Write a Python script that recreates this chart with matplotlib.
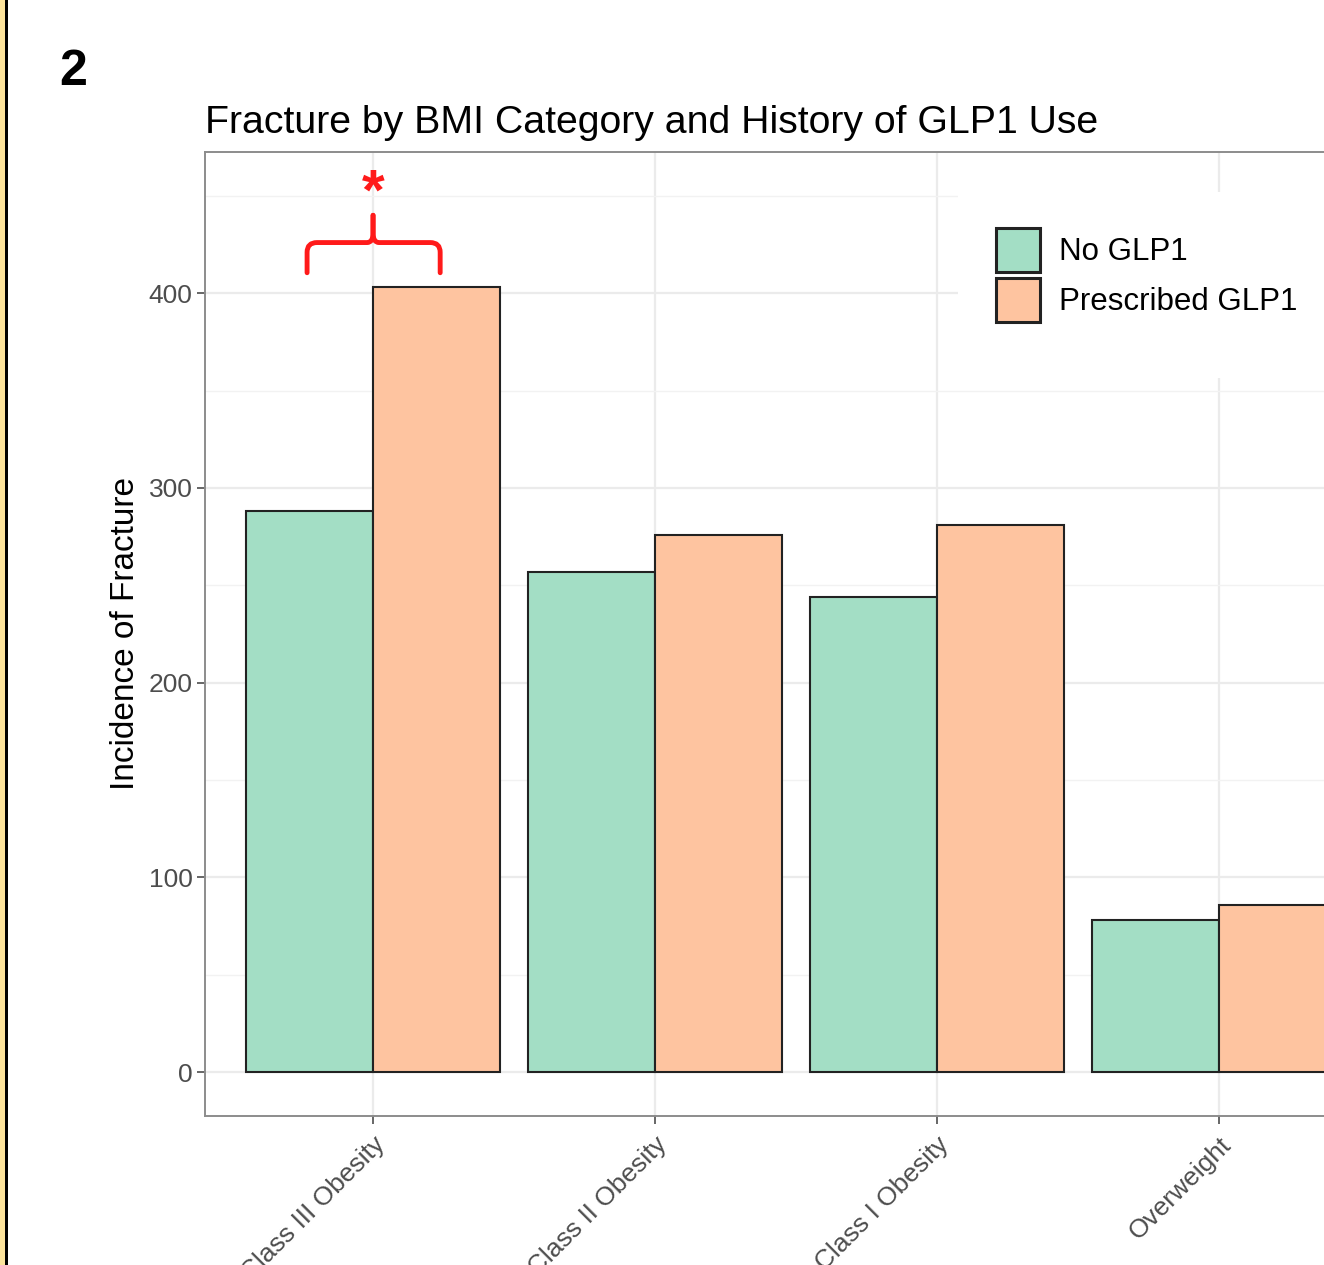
import matplotlib
matplotlib.use("Agg")
import matplotlib.pyplot as plt
from matplotlib.patches import Rectangle, PathPatch
from matplotlib.path import Path
import numpy as np

categories = ["Class III Obesity", "Class II Obesity", "Class I Obesity", "Overweight"]
no_glp1 = [288, 257, 244, 78]
prescribed_glp1 = [403, 276, 281, 86]
series_names = ["No GLP1", "Prescribed GLP1"]
y_ticks = [0, 100, 200, 300, 400]

GREEN = "#A3DEC5"
PEACH = "#FEC4A0"

plt.rcParams["font.family"] = ["Liberation Sans", "DejaVu Sans"]

W, H = 1324, 1265
fig = plt.figure(figsize=(W / 100, H / 100), dpi=100)

# panel placement in pixels
left_px, top_px, bot_px = 205, 152, 1116
ax = fig.add_axes([left_px / W, 1 - bot_px / H, 1 - left_px / W, (bot_px - top_px) / H])

x = np.arange(1, len(categories) + 1)
bw = 0.45
ax.bar(x - bw / 2, no_glp1, width=bw, color=GREEN, edgecolor="#222222", linewidth=1.5,
       label=series_names[0], zorder=3)
ax.bar(x + bw / 2, prescribed_glp1, width=bw, color=PEACH, edgecolor="#222222", linewidth=1.5,
       label=series_names[1], zorder=3)

ax.set_xlim(0.404, 1 + (W - 373) / 282)
ax.set_ylim(-22.5, 472.5)

ax.set_yticks(y_ticks)
ax.set_yticks([50, 150, 250, 350, 450], minor=True)
ax.set_xticks(x)
ax.set_xticklabels(categories, rotation=45, ha="right", va="top",
                   rotation_mode="anchor", fontsize=19, color="#4d4d4d")
ax.tick_params(axis="y", labelsize=19, colors="#4d4d4d", length=6, width=1.2, pad=3)
ax.tick_params(axis="x", colors="#4d4d4d", length=6, width=1.2, pad=6)
ax.tick_params(axis="y", which="minor", length=0)

ax.grid(True, which="major", color="#ebebeb", linewidth=1.6, zorder=0)
ax.grid(True, which="minor", axis="y", color="#f2f2f2", linewidth=1.0, zorder=0)

for side in ["left", "bottom", "top"]:
    ax.spines[side].set_color("#8c8c8c")
    ax.spines[side].set_linewidth(1.4)
ax.spines["right"].set_visible(False)

ax.set_ylabel("Incidence of Fracture", fontsize=24)
ax.yaxis.set_label_coords((141 - left_px) / (W - left_px), 0.5)
ax.set_title("Fracture by BMI Category and History of GLP1 Use", fontsize=28.3,
             loc="left", pad=14, x=0.0)

# white legend background that hides the grid
to_ax = lambda px, py: ((px - left_px) / (W - left_px), 1 - (py - top_px) / (bot_px - top_px))
bx0, by0 = to_ax(958, 378)
bx1, by1 = to_ax(W, 192)
ax.add_patch(Rectangle((bx0, by0), bx1 - bx0, by1 - by0, transform=ax.transAxes,
                       facecolor="white", edgecolor="none", zorder=2))

leg = ax.legend(loc="upper left", bbox_to_anchor=to_ax(996, 228),
                fontsize=22.5, frameon=False, handlelength=1.41, handleheight=1.79,
                handletextpad=0.6, labelspacing=0.18, borderpad=0, borderaxespad=0)
leg.set_zorder(4)
for h in leg.legend_handles:
    h.set_linewidth(2.2)

# significance bracket
def half_bracket(xb, xc, yb, yh, ytop, sgn):
    rx, ry = 0.035, 5
    verts = [(xb, yb), (xb, yh - ry), (xb, yh), (xb + sgn * rx, yh),
             (xc - sgn * rx * 0.6, yh), (xc, yh), (xc, yh + ry), (xc, ytop)]
    codes = [Path.MOVETO, Path.LINETO, Path.CURVE3, Path.CURVE3,
             Path.LINETO, Path.CURVE3, Path.CURVE3, Path.LINETO]
    return PathPatch(Path(verts, codes), fill=False, edgecolor="#FF1A1A",
                     linewidth=3.5, capstyle="round", joinstyle="round", zorder=5,
                     clip_on=False)

ax.add_patch(half_bracket(0.766, 1.0, 410.5, 426, 440, 1))
ax.add_patch(half_bracket(1.238, 1.0, 410.5, 426, 440, -1))
ax.text(1.0, 450.5, "*", color="#FF1A1A", fontsize=42, fontweight="bold",
        ha="center", va="center", zorder=5)

# panel label and left frame
fig.text(73 / W, 1 - 72 / H, "2", fontsize=36, fontweight="bold", ha="center", va="center")
fig.add_artist(Rectangle((0, 0), 5 / W, 1, transform=fig.transFigure,
                         facecolor="#FCE39B", edgecolor="none"))
fig.add_artist(Rectangle((5 / W, 0), 2.5 / W, 1, transform=fig.transFigure,
                         facecolor="black", edgecolor="none"))

fig.savefig("out.png", dpi=100)
